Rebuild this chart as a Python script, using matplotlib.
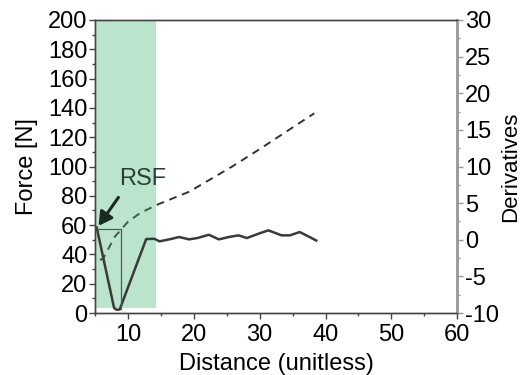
import numpy as np
import matplotlib.pyplot as plt
from matplotlib.ticker import MultipleLocator

plt.rcParams['font.family'] = ['Liberation Sans', 'DejaVu Sans']
plt.rcParams['axes.unicode_minus'] = False

# dashed curve: force (left axis)
force_x = [5.75, 6.25, 8.0, 10.0, 11.8, 14.3, 19.3, 25.8, 29.8, 38.3]
force_y = [36.2, 37.3, 52.1, 62.3, 68.1, 73.7, 82.8, 99.9, 111.3, 136.3]

# solid curve: derivatives (right axis)
deriv_x = [5.26, 7.9, 8.3, 8.75, 12.77, 14.02, 14.77, 16.28, 17.78, 19.29,
           20.53, 22.29, 23.80, 25.30, 26.80, 28.05, 29.81, 31.32, 33.32,
           34.58, 36.08, 37.59, 38.58]
deriv_y = [1.67, -9.3, -9.55, -9.5, 0.10, 0.14, -0.21, 0.06, 0.38, 0.06,
           0.24, 0.69, 0.06, 0.38, 0.61, 0.24, 0.83, 1.29, 0.61,
           0.61, 1.06, 0.38, -0.1]

# thin guide lines at the start
guide_x = [5.26, 8.9, 8.9]
guide_y = [1.47, 1.47, -9.5]

# shaded region
shade_x = [5, 14.3]
shade_lo, shade_hi = 3.5, 200

fig = plt.figure(figsize=(5.22, 3.75), dpi=100)
ax = fig.add_axes([0.182, 0.165, 0.694, 0.782])
ax2 = ax.twinx()

ax.plot(force_x, force_y, color='#333333', lw=1.4, linestyle=(0, (4, 3)))
ax2.plot(deriv_x, deriv_y, color='#3a3a3a', lw=1.8, solid_joinstyle='round')
ax2.plot(guide_x, guide_y, color='#555555', lw=0.9)

ax.fill_between(shade_x, shade_lo, shade_hi, color='#3cb371', alpha=0.35,
                lw=0, zorder=5)

ax.text(12.2, 91.5, 'RSF', fontsize=17, color='#2a4035', ha='center',
        va='center', zorder=6)
ax.annotate('', xy=(5.3, 58), xytext=(8.8, 80.5),
            arrowprops=dict(arrowstyle='-|>,head_length=0.8,head_width=0.45',
                            color='#1a2a20', lw=2.2), zorder=6)

ax.set_xlim(5, 60)
ax.set_ylim(0, 200)
ax2.set_ylim(-10, 30)

ax.xaxis.set_major_locator(MultipleLocator(10))
ax.xaxis.set_minor_locator(MultipleLocator(5))
ax.yaxis.set_major_locator(MultipleLocator(20))
ax.yaxis.set_minor_locator(MultipleLocator(10))
ax2.yaxis.set_major_locator(MultipleLocator(5))
ax2.yaxis.set_minor_locator(MultipleLocator(2.5))

ax.set_xlabel('Distance (unitless)', fontsize=17, labelpad=5)
ax.set_ylabel('Force [N]', fontsize=17, labelpad=7)
ax2.set_ylabel('Derivatives', fontsize=16, labelpad=1)

for a in (ax, ax2):
    a.tick_params(which='major', length=4, width=1, labelsize=17,
                  color='#444444', pad=1.5)
    a.tick_params(which='minor', length=2.5, width=1, color='#444444')
    for s in a.spines.values():
        s.set_color('#444444')
        s.set_linewidth(1)
ax.tick_params(axis='x', which='major', pad=4)
ax2.spines['right'].set_color('#999999')
ax2.spines['right'].set_linewidth(2)
ax2.tick_params(which='both', color='#999999')

fig.savefig('out.png', dpi=100)
